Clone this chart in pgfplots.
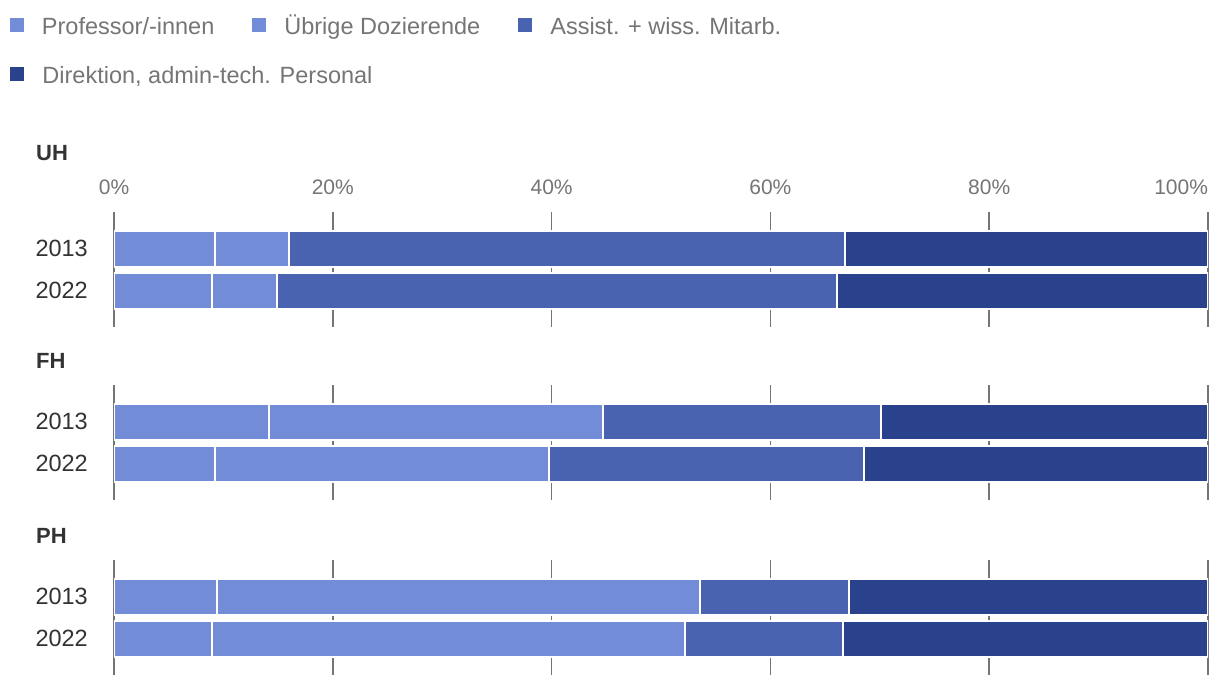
\documentclass[border=0pt]{standalone}
\usepackage{fontspec}
\setmainfont{Liberation Sans}
\usepackage{pgfplots}
\pgfplotsset{compat=1.18}
\definecolor{cA}{HTML}{728CD7}
\definecolor{cB}{HTML}{728CD7}
\definecolor{cC}{HTML}{4A63B1}
\definecolor{cD}{HTML}{2A418B}
\definecolor{gridgray}{HTML}{757575}
\definecolor{txtdark}{HTML}{333333}
\pgfplotsset{
  panel/.style={
    xbar stacked,
    scale only axis,
    width=1094bp, height=115bp,
    xmin=0, xmax=100,
    ymin=0.13, ymax=2.86,
    y dir=reverse,
    bar width=0.857,
    ytick={1,2}, yticklabels={2013,2022},
    xtick={0,20,40,60,80,100},
    xmajorgrids,
    grid style={line width=1.5bp, color=gridgray},
    axis line style={draw=none},
    major tick length=0pt,
    tick style={draw=none},
    /pgf/number format/assume math mode=true,
    yticklabel style={font=\fontsize{23.5bp}{27bp}\selectfont, text=txtdark, anchor=east, inner sep=0pt, xshift=-26bp},
    every axis plot/.append style={draw=white, line width=2bp},
    legend image code/.code={\path[#1,draw=none] (0bp,-1bp) rectangle (14bp,13bp);},
  },
}
\begin{document}
\begin{tikzpicture}
% UH
\begin{axis}[panel, at={(114bp,361bp)}, anchor=south west,
  xticklabel pos=right,
  xticklabels={0\%,20\%,40\%,60\%,80\%,\makebox[0pt][r]{100\%}},
  xticklabel style={font=\fontsize{21bp}{25bp}\selectfont, text=gridgray, anchor=base, inner sep=0pt, yshift=17bp},
  legend columns=3,
  legend style={draw=none, fill=none, at={(axis description cs:-0.0951,2.402)}, anchor=west,
    inner sep=0pt, outer sep=0pt, row sep=33bp,
    font=\fontsize{23.5bp}{27bp}\selectfont, text=gridgray,
    nodes={inner sep=0pt, anchor=west, text height=0.72em, text depth=0em},
    /tikz/every odd column/.append style={column sep=18bp},
    /tikz/every even column/.append style={column sep=38bp}},
  legend cell align=left,
]
\addplot[fill=cA] coordinates {(9.2,1) (9.0,2)};
\addplot[fill=cB] coordinates {(6.8,1) (5.9,2)};
\addplot[fill=cC] coordinates {(50.8,1) (51.2,2)};
\addplot[fill=cD] coordinates {(33.2,1) (33.9,2)};
\legend{Professor/-innen,Übrige Dozierende,Assist. + wiss. Mitarb.,\makebox[0pt][l]{Direktion, admin-tech. Personal}}
\draw[gridgray, line width=1.5bp] (rel axis cs:0,0) -- (rel axis cs:0,1);
\draw[gridgray, line width=1.5bp] (rel axis cs:1,0) -- (rel axis cs:1,1);
\end{axis}
% FH
\begin{axis}[panel, at={(114bp,188bp)}, anchor=south west, xticklabels={}]
\addplot[fill=cA] coordinates {(14.2,1) (9.2,2)};
\addplot[fill=cB] coordinates {(30.5,1) (30.6,2)};
\addplot[fill=cC] coordinates {(25.4,1) (28.8,2)};
\addplot[fill=cD] coordinates {(29.9,1) (31.4,2)};
\draw[gridgray, line width=1.5bp] (rel axis cs:0,0) -- (rel axis cs:0,1);
\draw[gridgray, line width=1.5bp] (rel axis cs:1,0) -- (rel axis cs:1,1);
\end{axis}
% PH
\begin{axis}[panel, at={(114bp,13bp)}, anchor=south west, xticklabels={}]
\addplot[fill=cA] coordinates {(9.4,1) (9.0,2)};
\addplot[fill=cB] coordinates {(44.2,1) (43.2,2)};
\addplot[fill=cC] coordinates {(13.6,1) (14.4,2)};
\addplot[fill=cD] coordinates {(32.8,1) (33.4,2)};
\draw[gridgray, line width=1.5bp] (rel axis cs:0,0) -- (rel axis cs:0,1);
\draw[gridgray, line width=1.5bp] (rel axis cs:1,0) -- (rel axis cs:1,1);
\end{axis}
\node[anchor=west, inner sep=0pt, text=txtdark, font=\bfseries\fontsize{22bp}{26bp}\selectfont] at (36bp,535bp) {UH};
\node[anchor=west, inner sep=0pt, text=txtdark, font=\bfseries\fontsize{22bp}{26bp}\selectfont] at (36bp,327bp) {FH};
\node[anchor=west, inner sep=0pt, text=txtdark, font=\bfseries\fontsize{22bp}{26bp}\selectfont] at (36bp,152bp) {PH};
\pgfresetboundingbox
\path[use as bounding box] (0,0) rectangle (1220bp,688bp);
\end{tikzpicture}
\end{document}
